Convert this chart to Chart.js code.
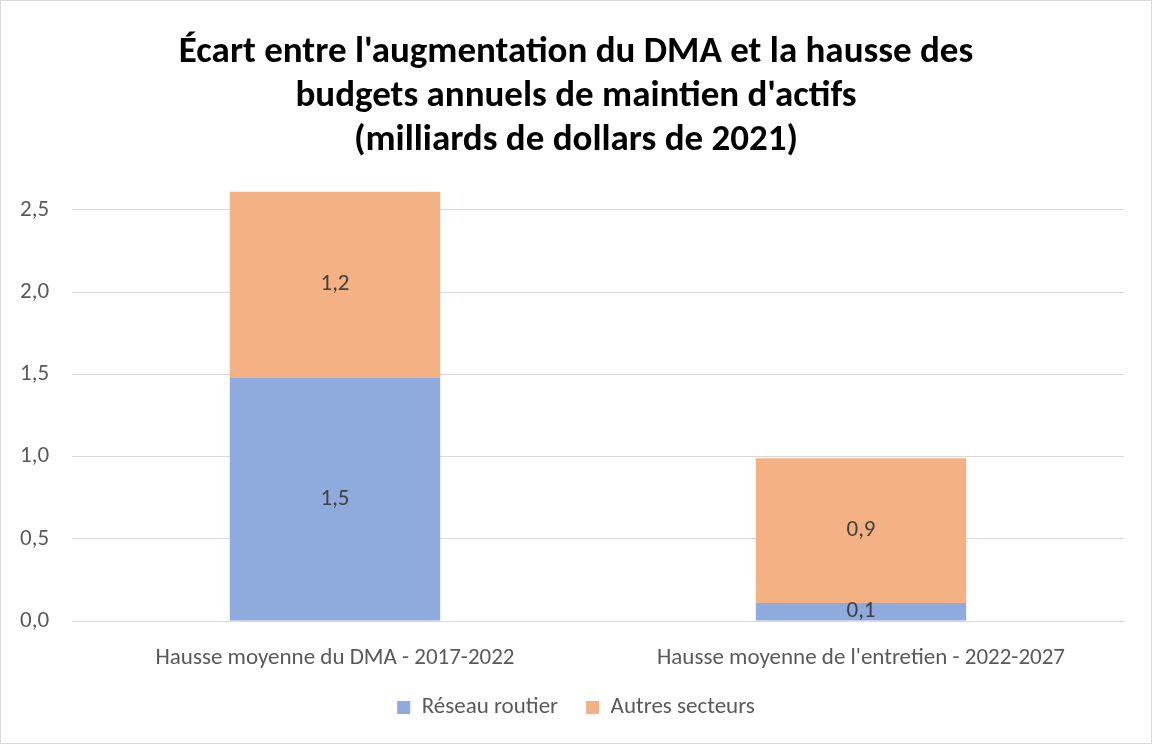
<!DOCTYPE html>
<html lang="fr">
<head>
<meta charset="utf-8">
<script src="https://cdn.jsdelivr.net/npm/chart.js@4"></script>
<style>
  html, body { margin: 0; padding: 0; background: #fff; }
  #wrap { width: 1152px; height: 744px; box-sizing: border-box; border: 1px solid #d9d9d9; position: relative; }
</style>
</head>
<body>
<div id="wrap"><canvas id="gapChart"></canvas></div>
<script>
const categories = ['Hausse moyenne du DMA - 2017-2022', "Hausse moyenne de l'entretien - 2022-2027"];
const routierValues = [1.48, 0.11];
const autresValues = [1.13, 0.88];
const routierLabels = ['1,5', '0,1'];
const autresLabels = ['1,2', '0,9'];
const yTicks = [0, 0.5, 1.0, 1.5, 2.0, 2.5];

const fontFamily = "Calibri, Carlito, 'Open Sans', 'Liberation Sans', sans-serif";

// value labels in the middle of each bar segment
const barLabels = {
    id: 'barLabels',
    afterDatasetsDraw(chart) {
        const { ctx } = chart;
        const texts = [routierLabels, autresLabels];
        ctx.save();
        ctx.font = '23px ' + fontFamily;
        ctx.fillStyle = '#404040';
        ctx.textAlign = 'center';
        ctx.textBaseline = 'middle';
        chart.data.datasets.forEach((ds, i) => {
            chart.getDatasetMeta(i).data.forEach((bar, j) => {
                const mid = (bar.y + bar.base) / 2;
                ctx.fillText(texts[i][j], bar.x, mid);
            });
        });
        ctx.restore();
    },
};

new Chart(document.getElementById('gapChart'), {
    type: 'bar',
    data: {
        labels: categories,
        datasets: [
            {
                label: 'Réseau routier',
                data: routierValues,
                backgroundColor: '#8faadc',
                barPercentage: 0.4,
                categoryPercentage: 1,
            },
            {
                label: 'Autres secteurs',
                data: autresValues,
                backgroundColor: '#f4b183',
                barPercentage: 0.4,
                categoryPercentage: 1,
            },
        ],
    },
    options: {
        responsive: true,
        maintainAspectRatio: false,
        animation: false,
        layout: { padding: { left: 27, right: 27, top: 20, bottom: 14 } },
        plugins: {
            title: {
                display: true,
                text: [
                    "Écart entre l'augmentation du DMA et la hausse des",
                    "budgets annuels de maintien d'actifs",
                    '(milliards de dollars de 2021)',
                ],
                color: '#000',
                font: { family: fontFamily, size: 37, weight: 'bold', lineHeight: 1.19 },
                padding: { top: 10, bottom: 27 },
            },
            legend: {
                position: 'bottom',
                labels: {
                    color: '#595959',
                    font: { family: fontFamily, size: 23 },
                    boxWidth: 13,
                    boxHeight: 13,
                    padding: 28,
                },
            },
            tooltip: { enabled: false },
        },
        scales: {
            x: {
                stacked: true,
                grid: { display: false, drawTicks: false },
                border: { color: '#d9d9d9' },
                ticks: { color: '#595959', font: { family: fontFamily, size: 23 }, padding: 23 },
                afterFit: (scale) => {
                    scale.height = 47;
                },
            },
            y: {
                stacked: true,
                min: 0,
                max: 2.62,
                afterBuildTicks: (scale) => {
                    scale.ticks = yTicks.map((v) => ({ value: v }));
                },
                afterFit: (scale) => {
                    scale.width = 44;
                },
                grid: { color: '#d9d9d9', drawTicks: false },
                border: { display: false },
                ticks: {
                    color: '#595959',
                    font: { family: fontFamily, size: 23 },
                    mirror: true,
                    padding: -52,
                    callback: (v) => Number(v).toFixed(1).replace('.', ','),
                },
            },
        },
    },
    plugins: [barLabels],
});
</script>
</body>
</html>
